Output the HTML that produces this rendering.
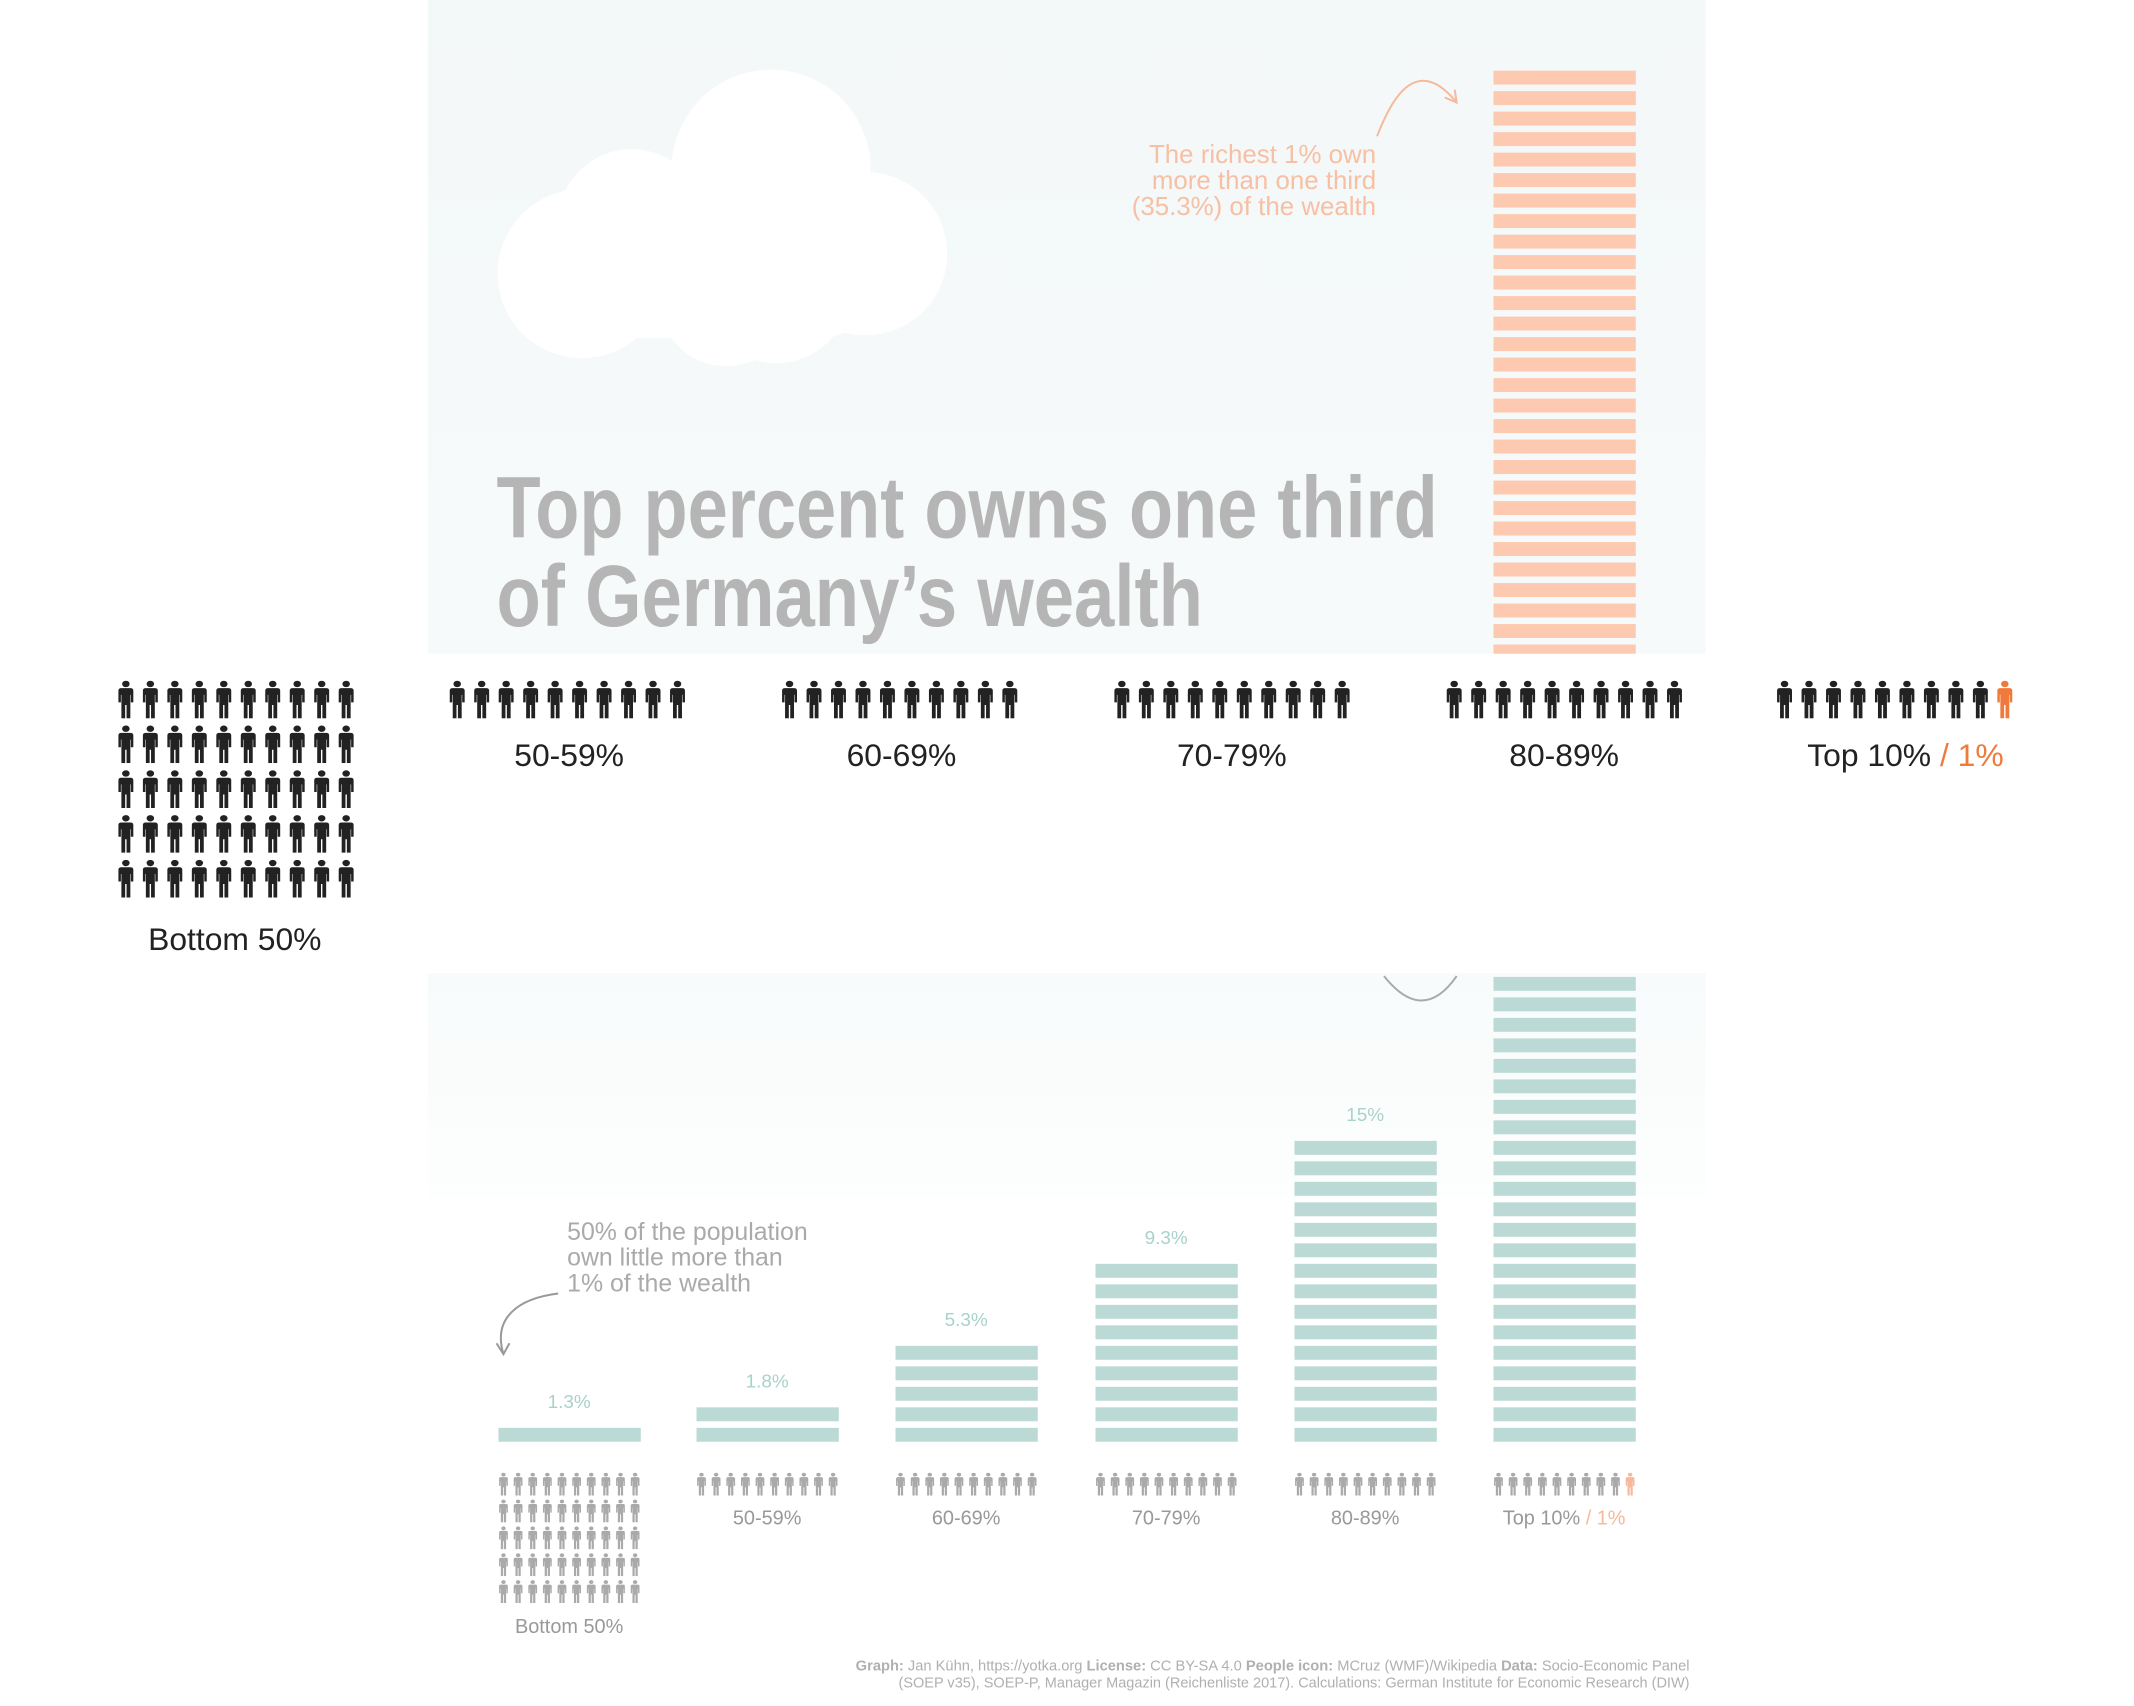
<!DOCTYPE html>
<html><head><meta charset="utf-8"><style>
html,body{margin:0;padding:0;background:#fff;}
svg{display:block;font-family:"Liberation Sans",sans-serif;}
</style></head><body>
<svg id="s" width="2134" height="1706" viewBox="0 0 2134 1706" xmlns="http://www.w3.org/2000/svg">
<defs>
<linearGradient id="bg1" x1="0" y1="0" x2="0" y2="1"><stop offset="0" stop-color="#f3f8f8"/><stop offset="1" stop-color="#f7fafa"/></linearGradient>
<linearGradient id="bg2" x1="0" y1="0" x2="0" y2="1"><stop offset="0" stop-color="#f8fbfb"/><stop offset="1" stop-color="#fdfefe"/></linearGradient>
<symbol id="p" viewBox="0 0 17 45" preserveAspectRatio="none"><circle cx="8.5" cy="4" r="3.8"/><path d="M1 12 Q1 9 4 9 H13 Q16 9 16 12 V26 H13.5 V17 H13 V45 H9.2 V29 H7.8 V45 H4 V17 H3.5 V26 H1 Z"/></symbol>
</defs>
<g transform="scale(0.995)">
<rect x="430" y="0" width="1284" height="657" fill="url(#bg1)"/>
<rect x="430" y="978" width="1284" height="226" fill="url(#bg2)"/>
<g fill="#ffffff">
<circle cx="775" cy="170" r="100"/><circle cx="635" cy="225" r="75"/><circle cx="585" cy="275" r="85"/><circle cx="870" cy="255" r="82"/><circle cx="730" cy="300" r="68"/><circle cx="780" cy="290" r="75"/><rect x="585" y="230" width="290" height="110" rx="50"/>
</g>
<text x="499" y="540" font-size="88" font-weight="bold" fill="#b5b5b5" textLength="946" lengthAdjust="spacingAndGlyphs">Top percent owns one third</text>
<text x="499" y="629" font-size="88" font-weight="bold" fill="#b5b5b5" textLength="710" lengthAdjust="spacingAndGlyphs">of Germany’s wealth</text>
<g fill="#f7bfa3" font-size="26" text-anchor="end">
<text x="1383" y="164">The richest 1% own</text><text x="1383" y="190">more than one third</text><text x="1383" y="216">(35.3%) of the wealth</text>
</g>
<path d="M1384 137 C1400 95,1425 55,1464 103" fill="none" stroke="#f6b99b" stroke-width="2"/>
<path d="M1452 98 L1464 103 L1462 90" fill="none" stroke="#f6b99b" stroke-width="2"/>
<g id="orange" fill="#fdc9b0"></g>
<g id="teal" fill="#bcdad5"></g>
<g id="icons"></g>
<g fill="#222" font-size="32" text-anchor="middle">
<text x="236" y="955">Bottom 50%</text>
<text x="572" y="770">50-59%</text><text x="906" y="770">60-69%</text><text x="1238" y="770">70-79%</text><text x="1572" y="770">80-89%</text>
<text x="1915" y="770">Top 10% <tspan fill="#f07a3c">/ 1%</tspan></text>
</g>
<path d="M1391 981 Q1430 1030 1464 981" fill="none" stroke="#aaa" stroke-width="2"/>
<g fill="#aaaaaa" font-size="25">
<text x="570" y="1246">50% of the population</text><text x="570" y="1272">own little more than</text><text x="570" y="1298">1% of the wealth</text>
</g>
<path d="M561 1300 C520 1305,495 1325,506 1361" fill="none" stroke="#999" stroke-width="2"/>
<path d="M499 1350 L506 1361 L512 1350" fill="none" stroke="#999" stroke-width="2"/>
<g id="vals" fill="#a8d2cb" font-size="19" text-anchor="middle"></g>
<g fill="#999" font-size="20" text-anchor="middle">
<text x="771" y="1532">50-59%</text><text x="971" y="1532">60-69%</text><text x="1172" y="1532">70-79%</text><text x="1372" y="1532">80-89%</text>
<text x="1572" y="1532">Top 10% <tspan fill="#f6b99b">/ 1%</tspan></text>
<text x="572" y="1641">Bottom 50%</text>
</g>
<g fill="#b0b0b0" font-size="14.5" text-anchor="end">
<text x="1698" y="1679" textLength="838" lengthAdjust="spacingAndGlyphs"><tspan font-weight="bold">Graph:</tspan> Jan Kühn, https://yotka.org  <tspan font-weight="bold">License:</tspan> CC BY-SA 4.0  <tspan font-weight="bold">People icon:</tspan> MCruz (WMF)/Wikipedia  <tspan font-weight="bold">Data:</tspan> Socio-Economic Panel</text>
<text x="1698" y="1696" textLength="795" lengthAdjust="spacingAndGlyphs">(SOEP v35), SOEP-P, Manager Magazin (Reichenliste 2017). Calculations: German Institute for Economic Research (DIW)</text>
</g>
</g>
</svg>
<script>
(function(){
var NS="http://www.w3.org/2000/svg";
function el(p,t,a){var e=document.createElementNS(NS,t);for(var k in a)e.setAttribute(k,a[k]);p.appendChild(e);return e;}
var o=document.getElementById('orange');
for(var i=0;i<29;i++){var y=71+i*20.6;var h=Math.min(14,657-y);if(h>0)el(o,'rect',{x:1501,y:y,width:143,height:h});}
var t=document.getElementById('teal'),v=document.getElementById('vals');
var xs=[501,700,900,1101,1301,1501],ns=[1,2,5,9,15,23],lb=['1.3%','1.8%','5.3%','9.3%','15%',''];
for(var b=0;b<6;b++){for(var i=0;i<ns[b];i++){el(t,'rect',{x:xs[b],y:1435-i*20.6,width:143,height:14});}
var tp=1435-(ns[b]-1)*20.6;if(lb[b]){var tx=el(v,'text',{x:xs[b]+71,y:tp-20});tx.textContent=lb[b];}}
var g=document.getElementById('icons');
function icon(x,y,w,h,c){el(g,'use',{href:'#p',x:x,y:y,width:w,height:h,fill:c});}
for(var r=0;r<5;r++)for(var i=0;i<10;i++)icon(118+i*24.6,684+r*45,17,38,'#222');
var gx=[451,785,1119,1453,1785];
for(var k=0;k<5;k++)for(var i=0;i<10;i++)icon(gx[k]+i*24.6,684,17,38,(k==4&&i==9)?'#f07a3c':'#222');
for(var r=0;r<5;r++)for(var i=0;i<10;i++)icon(501+i*14.7,1480+r*27,10,23,'#aaa');
for(var k=1;k<6;k++)for(var i=0;i<10;i++)icon(xs[k]+i*14.7,1480,10,23,(k==5&&i==9)?'#f6b99b':'#aaa');
})();
</script>
</body></html>
